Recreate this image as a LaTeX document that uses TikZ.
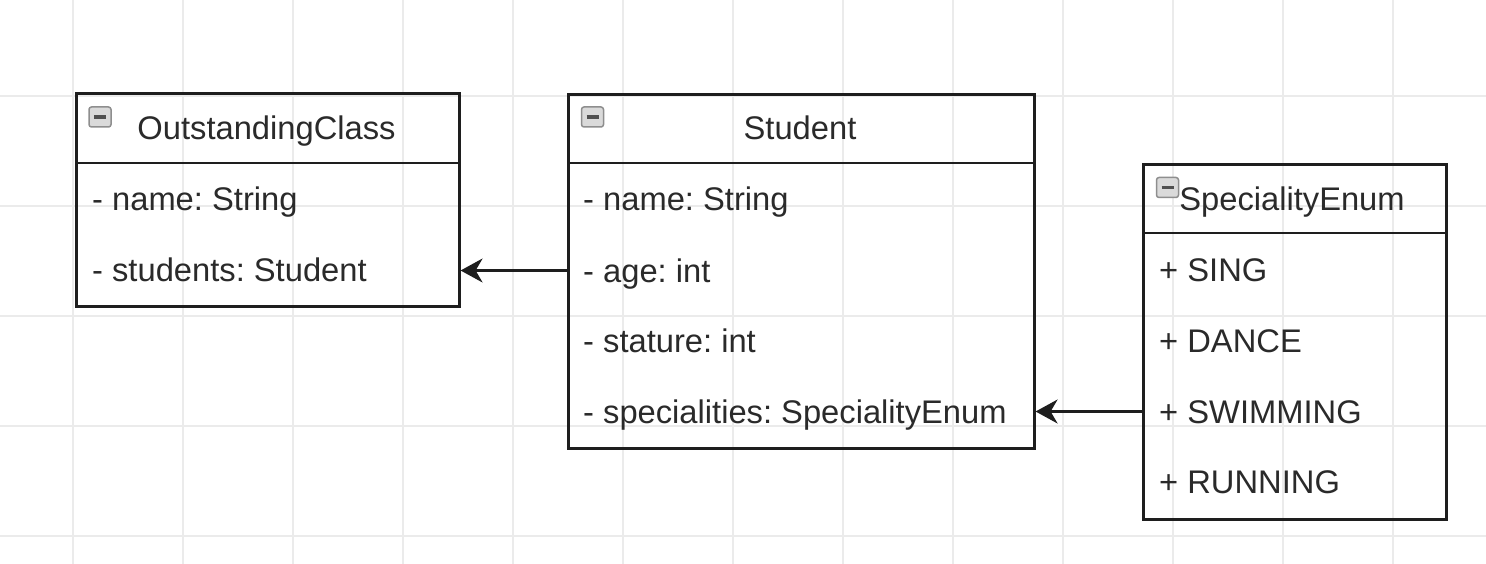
\documentclass[tikz,border=0pt]{standalone}
\usepackage{fontspec}
\setmainfont{Liberation Sans}
\usetikzlibrary{arrows.meta,calc}
\definecolor{gridc}{HTML}{EBEBEB}
\definecolor{linec}{HTML}{1E1E1E}
\definecolor{txtc}{HTML}{2A2A2A}
\definecolor{iconfill}{HTML}{DADADA}
\definecolor{iconline}{HTML}{8E8E8E}
\definecolor{iconbar}{HTML}{505050}
\frenchspacing
\begin{document}
\begin{tikzpicture}[x=1pt,y=-1pt,
  classbox/.style={draw=linec, line width=2.6pt, fill=none, inner sep=0pt, anchor=north west},
  sepline/.style={draw=linec, line width=2.6pt},
  rowtext/.style={inner sep=0pt, text=txtc, font=\fontsize{32.7}{38}\selectfont, text height=23pt, text depth=0pt, anchor=base west},
  titletext/.style={rowtext, anchor=base},
  collapseicon/.style={draw=iconline, fill=iconfill, line width=1.5pt, rounded corners=2.5pt, minimum width=22pt, minimum height=20pt, inner sep=0pt,
    path picture={\draw[iconbar, line width=3.5pt] ([xshift=-6pt]path picture bounding box.center) -- ([xshift=6pt]path picture bounding box.center);}},
  assoc/.style={draw=linec, line width=2.2pt, -{Stealth[length=22pt,width=24pt,inset=7pt]}}
]
\useasboundingbox (0,0) rectangle (1486,564);
\fill[white] (0,0) rectangle (1486,564);
% grid
\foreach \gx in {73,183,...,1393} \draw[gridc, line width=1.2pt] (\gx,0) -- (\gx,564);
\foreach \gy in {96,206,316,426,536} \draw[gridc, line width=1.2pt] (0,\gy) -- (1486,\gy);

% OutstandingClass
\node[classbox, minimum width=383pt, minimum height=213pt] (oc) at (75,92) {};
\draw[sepline] (oc.west |- 0,163) -- (oc.east |- 0,163);
\node[collapseicon] (ocicon) at (100,117) {};
\node[titletext] (octitle) at (266.5,140) {OutstandingClass};
\node[rowtext] (ocname) at (92,211) {- name: String};
\node[rowtext] (ocstud) at (92,281) {- students: Student};

% Student
\node[classbox, minimum width=466pt, minimum height=354pt] (st) at (567,93) {};
\draw[sepline] (st.west |- 0,163) -- (st.east |- 0,163);
\node[collapseicon] (sticon) at (592.5,117) {};
\node[titletext] (sttitle) at (800,140) {Student};
\node[rowtext] (stname) at (583,211) {- name: String};
\node[rowtext] (stage) at (583,282) {- age: int};
\node[rowtext] (ststat) at (583,352) {- stature: int};
\node[rowtext] (stspec) at (583,423) {- specialities: SpecialityEnum};

% SpecialityEnum
\node[classbox, minimum width=303pt, minimum height=355pt] (en) at (1142,163) {};
\draw[sepline] (en.west |- 0,233) -- (en.east |- 0,233);
\node[collapseicon] (enicon) at (1167.5,187.5) {};
\node[titletext] (entitle) at (1292,211) {SpecialityEnum};
\node[rowtext] (ensing) at (1159,281) {+ SING};
\node[rowtext] (endance) at (1159,352) {+ DANCE};
\node[rowtext] (enswim) at (1159,423) {+ SWIMMING};
\node[rowtext] (enrun) at (1159,493) {+ RUNNING};

% connectors
\draw[assoc] (st.west |- stage.center) -- (oc.east |- stage.center);
\draw[assoc] (en.west |- enswim.center) -- (st.east |- enswim.center);
\end{tikzpicture}
\end{document}
